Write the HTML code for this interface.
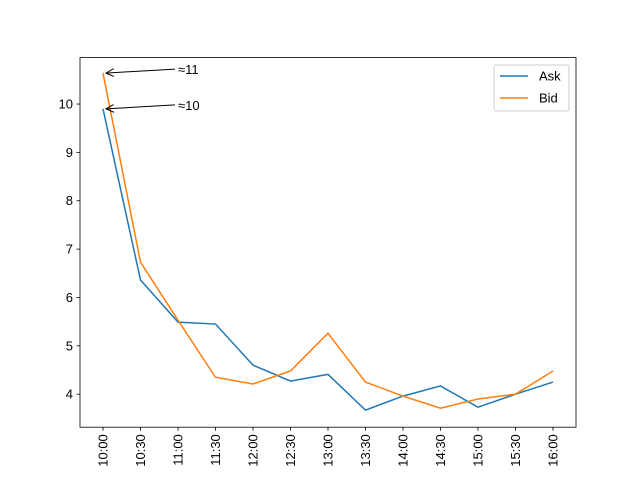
<!DOCTYPE html>
<html><head><meta charset="utf-8"><style>
body{margin:0;background:#fff;}
svg{display:block;font-family:"Liberation Sans","DejaVu Sans",sans-serif;}
</style></head><body>
<svg id="chart" width="640" height="480">
<defs><marker id="ah" markerWidth="10" markerHeight="8" refX="9" refY="4" orient="auto" markerUnits="userSpaceOnUse"><path d="M1,0 L9,4 L1,8" fill="none" stroke="#000" stroke-width="1"/></marker></defs>
</svg>
<script>
const categories=["10:00","10:30","11:00","11:30","12:00","12:30","13:00","13:30","14:00","14:30","15:00","15:30","16:00"];
const askValues=[9.9,6.36,5.49,5.45,4.6,4.27,4.41,3.67,3.96,4.17,3.73,4.0,4.25];
const bidValues=[10.64,6.73,5.53,4.35,4.21,4.48,5.26,4.25,3.96,3.71,3.9,4.0,4.48];
const yTicks=[4,5,6,7,8,9,10];
const annotations=[{label:"≈11",series:"bid"},{label:"≈10",series:"ask"}];
const svg=document.getElementById('chart');
const NS='http://www.w3.org/2000/svg';
const L=80,R=576,T=57.6,B=427.2,yMin=3.317,yMax=10.96;
const x=i=>103+i*(553-103)/(categories.length-1);
const y=v=>B-(v-yMin)/(yMax-yMin)*(B-T);
function mk(t,a,p){const e=document.createElementNS(NS,t);for(const k in a)e.setAttribute(k,a[k]);(p||svg).appendChild(e);return e;}
let e=mk('rect',{x:L,y:T,width:R-L,height:B-T,fill:'none',stroke:'#000','stroke-width':0.8});


categories.forEach((c,i)=>{
 let t=mk('line',{x1:x(i),x2:x(i),y1:B,y2:B+3.5,stroke:'#000','stroke-width':0.8});
 
 
 let l=mk('text',{x:0,y:0,'font-size':13,'text-anchor':'end',transform:`translate(${x(i)+4.5},${B+7}) rotate(-90)`});
 l.textContent=c;
 
 
});
yTicks.forEach(v=>{
 let t=mk('line',{x1:L-3.5,x2:L,y1:y(v),y2:y(v),stroke:'#000','stroke-width':0.8});
 
 
 let l=mk('text',{x:L-7,y:y(v)+4.5,'font-size':13,'text-anchor':'end'});
 l.textContent=v;
 
 
});
function line(vals,col,name){
 let p=mk('polyline',{points:vals.map((v,i)=>x(i)+','+y(v)).join(' '),fill:'none',stroke:col,'stroke-width':1.5});
 
 
}
line(askValues,'#1f77b4','ask-line');
line(bidValues,'#ff7f0e','bid-line');
annotations.forEach(a=>{
 const v=a.series==='bid'?bidValues[0]:askValues[0];
 const ty=y(v)-4;
 let ar=mk('line',{x1:175,y1:ty,x2:x(0)+3,y2:y(v),stroke:'#000','stroke-width':1,'marker-end':'url(#ah)'});
 
 
 let t=mk('text',{x:178,y:ty+5,'font-size':13});
 t.textContent=a.label;
 
 
});
let g=mk('g',{});


mk('rect',{x:494,y:65,width:75,height:46,rx:2,fill:'#fff',stroke:'#ccc','stroke-width':1},g);
[['Ask','#1f77b4'],['Bid','#ff7f0e']].forEach((s,i)=>{
 const yy=76+i*22;
 let ln=mk('line',{x1:500,x2:528,y1:yy,y2:yy,stroke:s[1],'stroke-width':1.5},g);
 
 
 let t=mk('text',{x:539,y:yy+4.5,'font-size':13},g);
 t.textContent=s[0];
 
 
});
</script>
</body></html>
